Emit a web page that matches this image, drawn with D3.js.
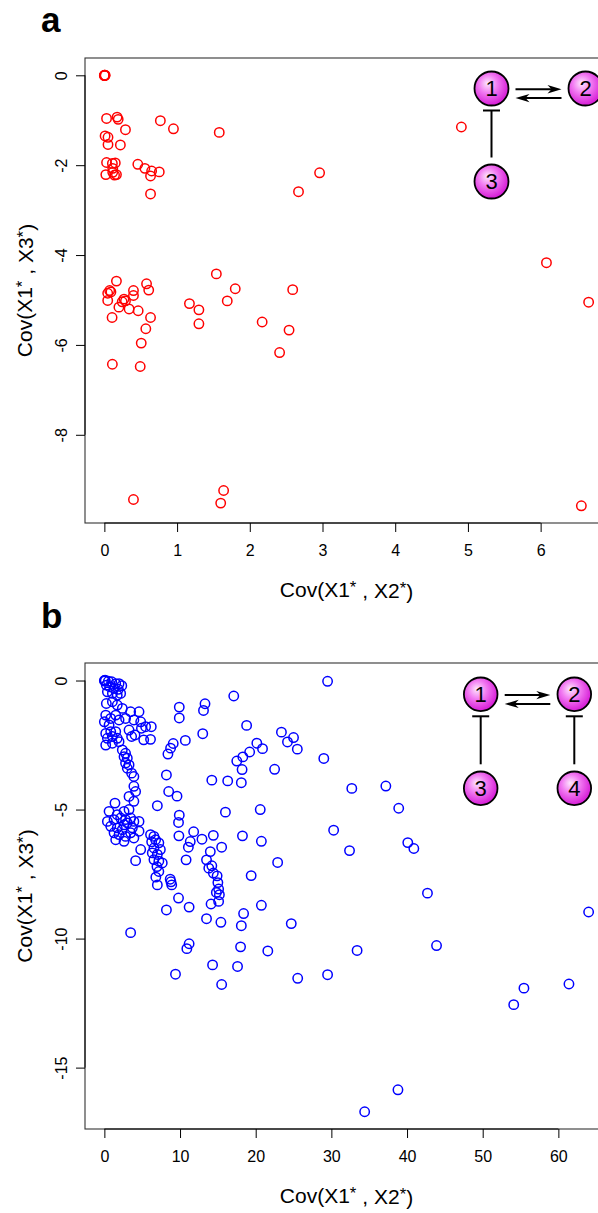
<!DOCTYPE html>
<html>
<head>
<meta charset="utf-8">
<script src="https://cdn.jsdelivr.net/npm/d3@7"></script>
<style>
  html, body { margin: 0; padding: 0; background: #fff; }
  svg { display: block; }
  text { font-family: "Liberation Sans", Arial, Helvetica, sans-serif; fill: #000; }
</style>
</head>
<body>
<svg id="chart" width="598" height="1213"></svg>
<script>
// ---- Panel a: network 1<->2, 3 -| 1 ; [Cov(X1*,X2*), Cov(X1*,X3*)] ----
const panelA = [
  [0,0],[0.005,0],[0.01,0.002],[0,-0.005],[0.008,-0.004],
  [0.03,-0.96],[0.175,-0.93],[0.19,-0.98],[0.29,-1.21],[0.77,-1.01],[0.95,-1.19],[1.58,-1.27],
  [0.01,-1.35],[0.05,-1.38],[0.05,-1.54],[0.22,-1.55],
  [0.03,-1.94],[0.11,-1.96],[0.15,-1.95],[0.02,-2.21],[0.115,-2.16],[0.14,-2.22],[0.166,-2.21],[0.115,-2.07],
  [0.46,-1.98],[0.557,-2.07],[0.65,-2.13],[0.755,-2.15],[0.635,-2.24],[0.635,-2.64],
  [2.67,-2.59],[2.96,-2.17],[4.91,-1.15],
  [1.54,-4.42],[1.8,-4.75],[2.59,-4.77],[6.08,-4.17],[6.66,-5.05],[6.56,-9.58],
  [0.166,-4.58],[0.58,-4.64],[0.073,-4.79],[0.09,-4.82],[0.046,-4.85],[0.046,-5.01],[0.4,-4.79],
  [0.4,-4.9],[0.61,-4.78],[0.27,-4.98],[0.29,-5.02],[0.245,-5.04],[0.2,-5.16],[0.34,-5.2],
  [0.465,-5.24],[0.106,-5.39],[0.635,-5.39],[0.57,-5.64],[0.507,-5.96],[0.11,-6.43],[0.493,-6.48],
  [1.17,-5.08],[1.3,-5.22],[1.3,-5.53],[1.69,-5.02],[2.17,-5.49],[2.54,-5.67],[2.41,-6.17],
  [0.4,-9.44],[1.64,-9.24],[1.6,-9.52]
];

// ---- Panel b: network 1<->2, 3 -| 1, 4 -| 2 ----
const panelB = [
  [0,0],[0.05,-0.02],[0.1,0],[0.09,0.01],[0.53,-0.03],[0.97,-0.05],[1.5,-0.12],[1.94,-0.12],
  [0.26,-0.18],[0.7,-0.24],[1.28,-0.31],[1.85,-0.34],[2.3,-0.2],[0.4,-0.44],[1.06,-0.5],[1.7,-0.57],[2.15,-0.5],
  [0.26,-0.89],[1.06,-0.82],[1.7,-0.95],[2.37,-1.08],[0.18,-1.34],[0.84,-1.47],[1.5,-1.34],[1.94,-1.53],
  [2.8,-1.47],[3.47,-1.21],[4.58,-1.21],[4.8,-1.6],[3.9,-1.53],[5.45,-1.79],[6.2,-1.79],[4.9,-1.85],
  [3.26,-1.92],[0,-1.6],[0.62,-1.72],
  [0.18,-2.05],[0.84,-1.98],[1.5,-1.98],[0.4,-2.24],[1.06,-2.17],[1.7,-2.24],[0.18,-2.5],[1.06,-2.43],
  [1.94,-2.37],[3.6,-2.17],[4.05,-2.11],[5.2,-2.3],[6.1,-2.28],
  [2.37,-2.69],[2.8,-2.82],[2.6,-2.95],[3.03,-3.01],[2.8,-3.2],[3.26,-3.27],[3.03,-3.4],[3.6,-3.59],
  [3.9,-3.72],[3.9,-4.1],[4.13,-4.3],[3.26,-4.49],[3.9,-4.68],
  [9.1,-2.44],[8.75,-2.62],[8.4,-2.85],[8.2,-3.66],[8.5,-4.3],[7.0,-4.85],
  [1.4,-4.75],[0.62,-5.07],[1.7,-5.2],[2.6,-5.07],[3.26,-5.0],[0.4,-5.46],[1.28,-5.39],[2.15,-5.33],
  [2.8,-5.39],[3.47,-5.33],[3.9,-5.46],[3.03,-5.52],[2.6,-5.59],[4.58,-5.46],[0.84,-5.65],[1.7,-5.71],
  [2.37,-5.78],[3.7,-5.71],[1.28,-5.9],[1.94,-5.97],[2.8,-6.04],[3.9,-6.1],[2.6,-6.23],[1.5,-6.17],
  [3.47,-5.9],[4.58,-5.84],[4.8,-6.55],[4.13,-6.98],
  [6.1,-5.97],[6.55,-6.04],[6.77,-6.17],[6.25,-6.25],[7.2,-6.29],[6.55,-6.49],[7.4,-6.55],[6.33,-6.68],
  [7.0,-6.74],[6.55,-6.94],[7.2,-7.0],[7.65,-7.07],[6.95,-7.21],[7.2,-7.4],[6.8,-7.62],[7.0,-7.92],
  [9.9,-1.03],[9.9,-1.45],[13.3,-0.9],[13.1,-1.16],[17.1,-0.6],[18.8,-1.74],[13.0,-2.06],[10.7,-2.32],
  [20.15,-2.43],[19.2,-2.77],[18.3,-2.96],[17.5,-3.12],[18.2,-3.45],[18.1,-3.96],[16.3,-3.89],[14.2,-3.86],
  [9.6,-4.48],[16.0,-5.1],[20.6,-5.0],[9.9,-5.22],[9.8,-5.5],[9.85,-6.02],[11.8,-5.86],[12.9,-6.15],
  [14.4,-6.0],[11.35,-6.24],[11.1,-6.46],[18.25,-6.02],[20.75,-6.23],[15.5,-6.46],[14.0,-6.63],
  [29.5,-0.03],[23.4,-2.0],[25.0,-2.21],[24.2,-2.38],[25.5,-2.66],[20.9,-2.64],[22.5,-3.44],[29.0,-3.02],
  [32.7,-4.18],[37.2,-4.09],[38.9,-4.95],[30.3,-5.8],[32.4,-6.59],[40.1,-6.28],[40.9,-6.51],[22.9,-7.05],
  [8.7,-7.7],[8.8,-7.8],[8.9,-7.92],[9.8,-8.43],[11.2,-8.78],[8.2,-8.89],[10.8,-6.95],[13.5,-6.95],
  [13.8,-7.27],[14.2,-7.18],[14.4,-7.46],[14.9,-7.57],[15.0,-7.83],[15.1,-8.08],[14.8,-8.21],[15.2,-8.3],
  [15.1,-8.56],[14.1,-8.66],[13.5,-9.23],[15.4,-9.37],[18.1,-9.5],[18.4,-9.03],[20.75,-8.71],[19.4,-7.56],
  [24.7,-9.42],[3.47,-9.77],[11.2,-10.2],[10.9,-10.39],[18.0,-10.32],[21.6,-10.48],[14.3,-11.02],
  [17.6,-11.08],[9.4,-11.38],[15.5,-11.78],
  [42.7,-8.24],[64.0,-8.97],[33.4,-10.46],[43.9,-10.27],[25.55,-11.54],[29.5,-11.4],[55.45,-11.92],
  [61.4,-11.76],[54.1,-12.56],[38.8,-15.86],[34.4,-16.71]
];

// tick values
const ticksAx = [0, 1, 2, 3, 4, 5, 6];
const ticksAy = [0, -2, -4, -6, -8];
const ticksBx = [0, 10, 20, 30, 40, 50, 60];
const ticksBy = [0, -5, -10, -15];

// axis titles
const titleX = ["Cov(X1", "*", ", X2", "*", ")"];
const titleY = ["Cov(X1", "*", ", X3", "*", ")"];

// network diagrams: node labels
const netANodes = ["1", "2", "3"];
const netBNodes = ["1", "2", "3", "4"];

const svg = d3.select("#chart");
const defs = svg.append("defs");
const grad = defs.append("radialGradient").attr("id", "nodeFill")
  .attr("cx", "42%").attr("cy", "40%").attr("r", "60%").attr("fx", "38%").attr("fy", "34%");
grad.append("stop").attr("offset", "0%").attr("stop-color", "#fde8fd");
grad.append("stop").attr("offset", "45%").attr("stop-color", "#f27cf2");
grad.append("stop").attr("offset", "100%").attr("stop-color", "#d61cd6");

const panels = [
  { tag: "a", data: panelA, color: "#ff0000", box: { x0: 85, x1: 608, y0: 58, y1: 523 },
    xt: ticksAx, yt: ticksAy, tagY: 32,
    nodes: netANodes, nodePos: [[491.5, 88.5], [585.5, 88.5], [491.5, 181.5]],
    inhib: [[2, 0]], r: 17 },
  { tag: "b", data: panelB, color: "#0000ff", box: { x0: 85, x1: 608, y0: 663, y1: 1129 },
    xt: ticksBx, yt: ticksBy, tagY: 628,
    nodes: netBNodes, nodePos: [[480.7, 694.3], [574.3, 694.3], [480.7, 788.3], [574.3, 788.3]],
    inhib: [[2, 0], [3, 1]], r: 16.8 }
];

// R-style 4% padding around the data range
function padded(ext) {
  const d = (ext[1] - ext[0]) * 0.04;
  return [ext[0] - d, ext[1] + d];
}

function title(sel, parts) {
  parts.forEach((p, i) => {
    const t = sel.append("tspan").text(p);
    if (p === "*") t.attr("font-size", "0.8em").attr("dy", "-0.25em");
    if (i === 2 || i === 4) t.attr("dy", "0.25em").attr("dx", i === 2 ? "0.28em" : null);
  });
}

panels.forEach(P => {
  const b = P.box;
  const x = d3.scaleLinear().domain(padded(d3.extent(P.data, d => d[0]))).range([b.x0, b.x1]);
  const y = d3.scaleLinear().domain(padded(d3.extent(P.data, d => d[1]))).range([b.y1, b.y0]);
  const g = svg.append("g");

  // panel tag
  svg.append("text").attr("x", 41).attr("y", P.tagY)
    .attr("font-size", 35).attr("font-weight", "bold").text(P.tag);

  // points
  g.append("g").selectAll("circle").data(P.data).join("circle")
    .attr("cx", d => x(d[0])).attr("cy", d => y(d[1])).attr("r", 4.7)
    .attr("fill", "none").attr("stroke", P.color).attr("stroke-width", 1.5);

  // frame
  g.append("rect").attr("x", b.x0).attr("y", b.y0)
    .attr("width", b.x1 - b.x0).attr("height", b.y1 - b.y0)
    .attr("fill", "none").attr("stroke", "#333").attr("stroke-width", 1.1);

  // bottom axis
  const ax = g.append("g").attr("transform", `translate(0,${b.y1})`)
    .call(d3.axisBottom(x).tickValues(P.xt).tickSize(9).tickFormat(d3.format("d")));
  ax.select(".domain").remove();
  ax.selectAll(".tick line").attr("stroke", "#000");
  ax.selectAll(".tick text").attr("y", 27).attr("dy", "0.36em")
    .attr("font-size", 16).attr("font-family", "Liberation Sans, Arial, sans-serif").attr("fill", "#000");
  g.append("line").attr("x1", x(P.xt[0])).attr("x2", x(P.xt[P.xt.length - 1]))
    .attr("y1", b.y1).attr("y2", b.y1).attr("stroke", "#000");

  // left axis, labels parallel to the axis
  const ay = g.append("g").attr("transform", `translate(${b.x0},0)`)
    .call(d3.axisLeft(y).tickValues(P.yt).tickSize(9).tickFormat(d => d3.format("d")(d).replace("−", "-")));
  ay.select(".domain").remove();
  ay.selectAll(".tick line").attr("stroke", "#000");
  ay.selectAll(".tick text").attr("x", null).attr("dy", "0.36em")
    .attr("transform", "translate(-24,0) rotate(-90)").attr("text-anchor", "middle")
    .attr("font-size", 16).attr("font-family", "Liberation Sans, Arial, sans-serif").attr("fill", "#000");
  g.append("line").attr("x1", b.x0).attr("x2", b.x0)
    .attr("y1", y(P.yt[0])).attr("y2", y(P.yt[P.yt.length - 1])).attr("stroke", "#000");

  // axis titles
  const cx = (b.x0 + b.x1) / 2, cy = (b.y0 + b.y1) / 2;
  const tx = g.append("text").attr("x", cx).attr("y", b.y1 + 74)
    .attr("text-anchor", "middle").attr("font-size", 21);
  title(tx, titleX);
  const ty = g.append("text").attr("transform", `translate(32,${cy}) rotate(-90)`)
    .attr("text-anchor", "middle").attr("font-size", 21);
  title(ty, titleY);

  // network diagram
  const net = g.append("g");
  const p = P.nodePos;
  const arrowPath = (x1, x2, yy) => {
    const dir = Math.sign(x2 - x1);
    net.append("line").attr("x1", x1).attr("x2", x2 - dir * 6).attr("y1", yy).attr("y2", yy)
      .attr("stroke", "#000").attr("stroke-width", 2);
    net.append("path")
      .attr("d", `M${x2},${yy} L${x2 - dir * 14},${yy - 4.2} L${x2 - dir * 10},${yy} L${x2 - dir * 14},${yy + 4.2} Z`)
      .attr("fill", "#000");
  };
  arrowPath(p[0][0] + 24, p[1][0] - 24, p[0][1] + 0.8);
  arrowPath(p[1][0] - 24, p[0][0] + 24, p[0][1] + 9.6);
  P.inhib.forEach(([from, to]) => {
    const xx = p[to][0];
    const yTop = p[to][1] + 22, yBot = p[from][1] - 24;
    net.append("line").attr("x1", xx).attr("x2", xx).attr("y1", yTop).attr("y2", yBot)
      .attr("stroke", "#000").attr("stroke-width", 2);
    net.append("line").attr("x1", xx - 8.5).attr("x2", xx + 8.5).attr("y1", yTop).attr("y2", yTop)
      .attr("stroke", "#000").attr("stroke-width", 2);
  });
  const nodes = net.selectAll("g.node").data(P.nodes).join("g").attr("class", "node")
    .attr("transform", (d, i) => `translate(${p[i][0]},${p[i][1]})`);
  nodes.append("circle").attr("r", P.r).attr("fill", "url(#nodeFill)")
    .attr("stroke", "#000").attr("stroke-width", 1.8);
  nodes.append("text").attr("text-anchor", "middle").attr("dy", "0.36em")
    .attr("font-family", "DejaVu Sans, sans-serif").attr("font-size", 22).text(d => d);
});
</script>
</body>
</html>
